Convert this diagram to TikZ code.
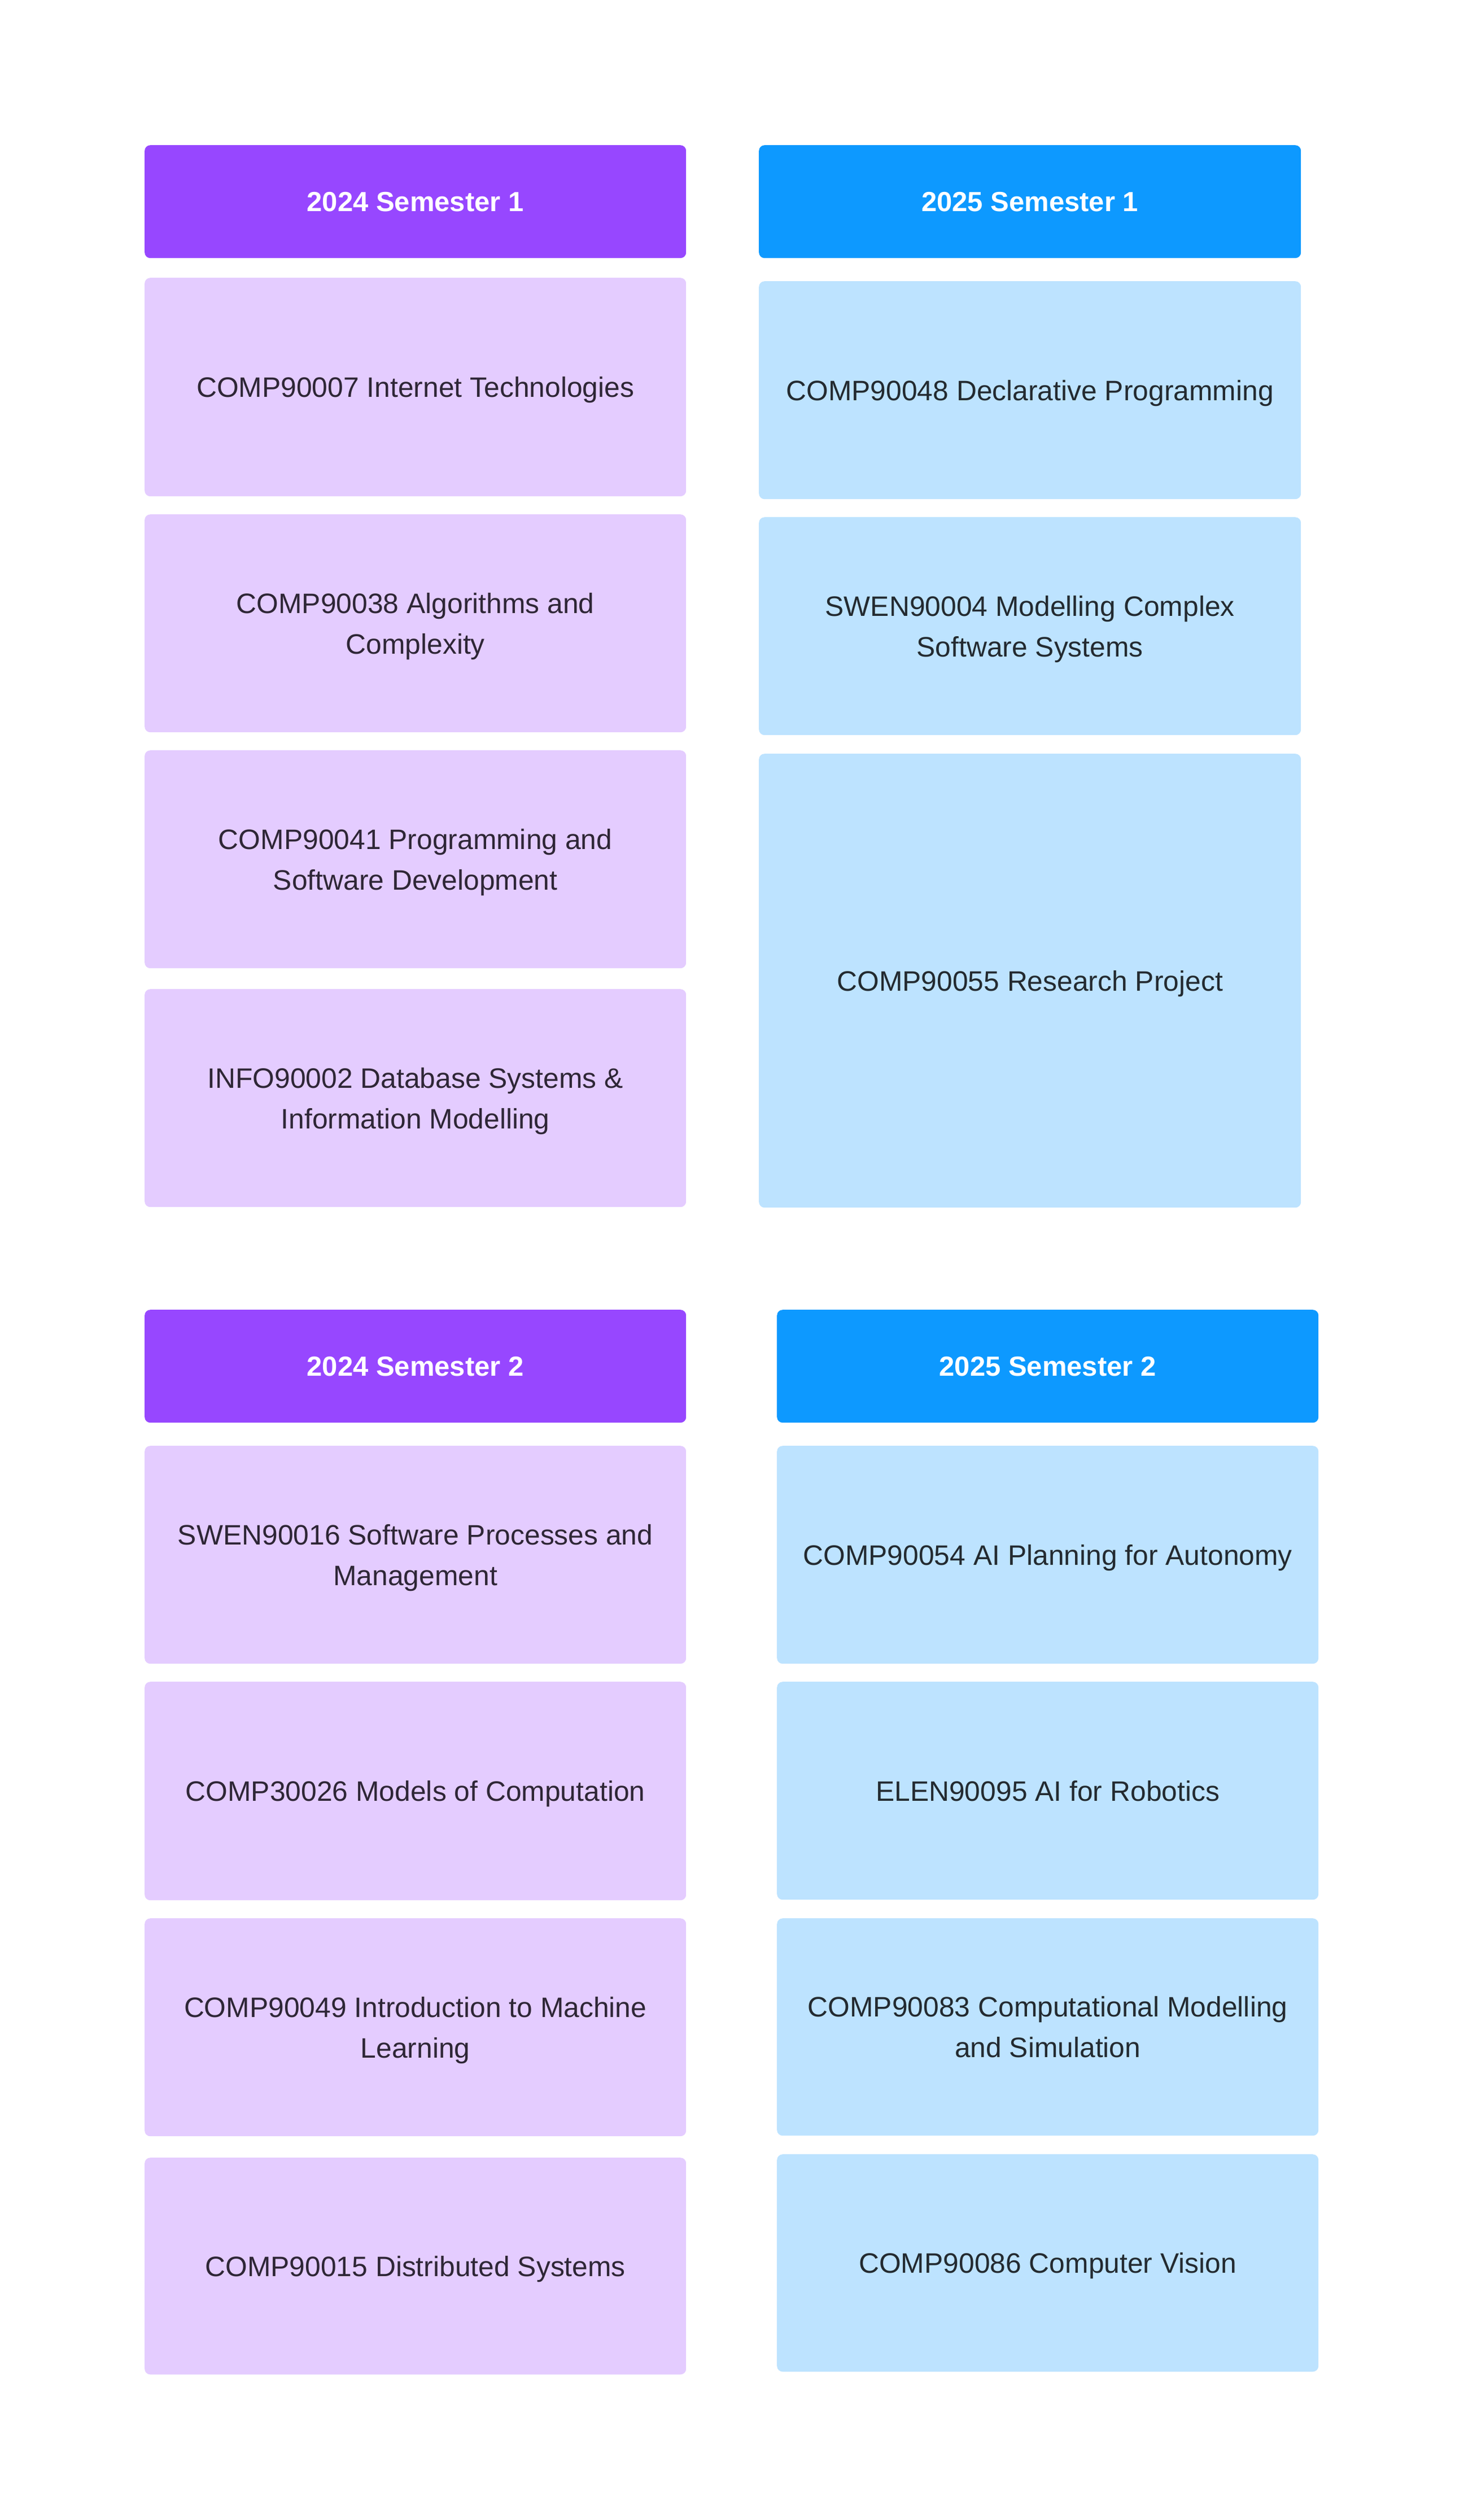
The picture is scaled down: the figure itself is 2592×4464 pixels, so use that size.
\documentclass[tikz,border=0pt]{standalone}
\usepackage{fontspec}
\setmainfont{Liberation Sans}
\definecolor{hdrpurple}{HTML}{9747FF}
\definecolor{boxpurple}{HTML}{E4CCFF}
\definecolor{hdrblue}{HTML}{0D99FF}
\definecolor{boxblue}{HTML}{BDE3FF}
\definecolor{txtpurple}{HTML}{2E2636}
\definecolor{txtblue}{HTML}{232A30}
\tikzset{
  base/.style={anchor=north west, rounded corners=10pt, inner sep=0pt, align=center,
    text depth=0pt, font=\fontsize{49.8}{72}\selectfont},
  hdr/.style={base, minimum height=200pt, text=white,
    font=\fontsize{49}{60}\selectfont\bfseries},
  hdrP/.style={hdr, fill=hdrpurple, minimum width=959pt},
  hdrB/.style={hdr, fill=hdrblue, minimum width=960pt},
  boxP/.style={base, fill=boxpurple, text=txtpurple, minimum width=959pt, minimum height=386pt},
  boxB/.style={base, fill=boxblue, text=txtblue, minimum width=960pt, minimum height=386pt}
}
\begin{document}
\begin{tikzpicture}[x=1pt,y=-1pt]
\useasboundingbox (0,0) rectangle (2592,4464);
\fill[white] (0,0) rectangle (2592,4464);
% 2024 Semester 1
\node[hdrP] (h241) at (256,257) {2024 Semester 1};
\node[boxP, minimum height=387pt] (c90007) at (256,492) {COMP90007 Internet Technologies};
\node[boxP] (c90038) at (256,911) {COMP90038 Algorithms and\\Complexity};
\node[boxP] (c90041) at (256,1329) {COMP90041 Programming and\\Software Development};
\node[boxP] (i90002) at (256,1752) {INFO90002 Database Systems \&\\Information Modelling};
% 2025 Semester 1
\node[hdrB] (h251) at (1344,257) {2025 Semester 1};
\node[boxB] (c90048) at (1344,498) {COMP90048 Declarative Programming};
\node[boxB] (s90004) at (1344,916) {SWEN90004 Modelling Complex\\Software Systems};
\node[boxB, minimum height=804pt] (c90055) at (1344,1335) {COMP90055 Research Project};
% 2024 Semester 2
\node[hdrP] (h242) at (256,2320) {2024 Semester 2};
\node[boxP] (s90016) at (256,2561) {SWEN90016 Software Processes and\\Management};
\node[boxP, minimum height=387pt] (c30026) at (256,2979) {COMP30026 Models of Computation};
\node[boxP] (c90049) at (256,3398) {COMP90049 Introduction to Machine\\Learning};
\node[boxP, minimum height=384pt] (c90015) at (256,3822) {COMP90015 Distributed Systems};
% 2025 Semester 2
\node[hdrB, minimum width=959pt] (h252) at (1376,2320) {2025 Semester 2};
\node[boxB, minimum width=959pt] (c90054) at (1376,2561) {COMP90054 AI Planning for Autonomy};
\node[boxB, minimum width=959pt] (e90095) at (1376,2979) {ELEN90095 AI for Robotics};
\node[boxB, minimum width=959pt, minimum height=385pt] (c90083) at (1376,3398) {COMP90083 Computational Modelling\\and Simulation};
\node[boxB, minimum width=959pt, minimum height=385pt] (c90086) at (1376,3816) {COMP90086 Computer Vision};
\end{tikzpicture}
\end{document}
